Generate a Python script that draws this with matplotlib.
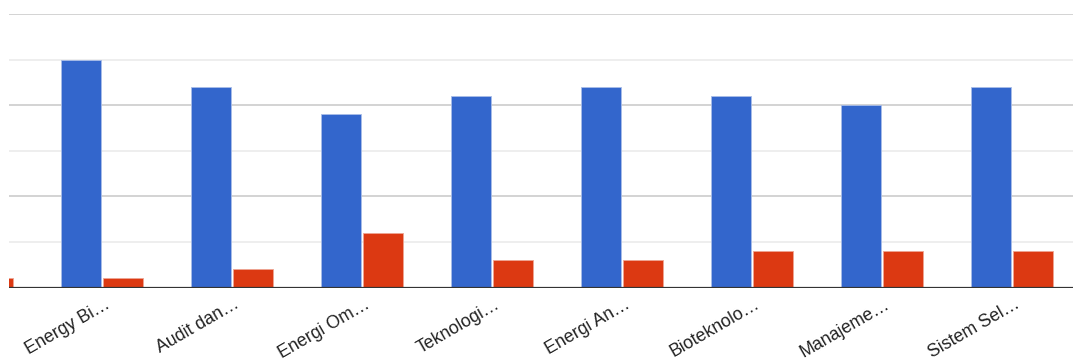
"""Grouped bar chart (Google Charts look), clipped on the left like the source."""

import numpy as np
import matplotlib.pyplot as plt
from matplotlib.transforms import ScaledTranslation

plt.rcParams['font.family'] = ['Liberation Sans', 'DejaVu Sans']

# Data (first category is only partly visible at the left edge)
categories = ["", "Energy Bi…", "Audit dan…", "Energi Om…", "Teknologi…",
              "Energi An…", "Bioteknolo…", "Manajeme…", "Sistem Sel…"]
series_blue = [np.nan, 25, 22, 19, 21, 22, 21, 20, 22]
series_red = [1, 1, 2, 6, 3, 3, 4, 4, 4]

BLUE = '#3366cc'
RED = '#dc3912'

fig = plt.figure(figsize=(10.73, 3.62), dpi=100)
ax = fig.add_axes([9 / 1073, 1 - 287.5 / 362, 1 - 9 / 1073, (287.5 - 14) / 362])

x = np.arange(len(categories)) - 1
width = 40 / 130
offset = 21 / 130

ax.bar(x - offset, series_blue, width, color=BLUE, edgecolor='#a9bde8',
       linewidth=0.6, zorder=3)
ax.bar(x + offset, series_red, width, color=RED, edgecolor='#eea593',
       linewidth=0.6, zorder=3)

# gridlines: major every 10, minor every 5
for v in [10, 20, 30]:
    ax.axhline(v, color='#cccccc', linewidth=1.2, zorder=1)
for v in [5, 15, 25]:
    ax.axhline(v, color='#ebebeb', linewidth=1.2, zorder=1)
ax.axhline(0, color='#333333', linewidth=1.6, zorder=4)

for s in ax.spines.values():
    s.set_visible(False)
ax.set_yticks([])
ax.set_xticks(x)
ax.set_xticklabels(categories, rotation=30, ha='right', va='top',
                   rotation_mode='anchor', fontsize=12.8, color='#222222')
ax.tick_params(axis='x', length=0, pad=6)
shift = ScaledTranslation(2 / 100, 0, fig.dpi_scale_trans)
for lbl in ax.get_xticklabels():
    lbl.set_transform(lbl.get_transform() + shift)

# limits last, so the ticks do not widen the view
ax.set_xlim(-0.7154, 7.469)
ax.set_ylim(0, 30)

fig.savefig('out.png', dpi=100)
